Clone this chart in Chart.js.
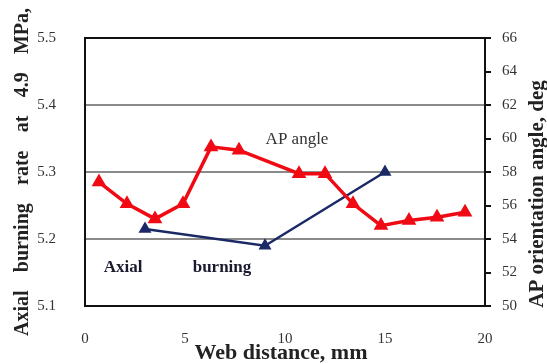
<!DOCTYPE html>
<html>
<head>
<meta charset="utf-8">
<script src="https://cdn.jsdelivr.net/npm/chart.js@4"></script>
<style>
  body { margin: 0; background: #fff; }
</style>
</head>
<body>
<canvas id="chart" width="547" height="364"></canvas>
<script>
// AP orientation angle (right axis)
const webDistanceAP = [0.7, 2.1, 3.5, 4.9, 6.3, 7.7, 10.7, 12.0, 13.4, 14.8, 16.2, 17.6, 19.0];
const apAngle = [57.4, 56.1, 55.2, 56.1, 59.5, 59.3, 57.9, 57.9, 56.1, 54.8, 55.1, 55.3, 55.6];

// Axial burning rate (left axis)
const webDistanceBurn = [3, 9, 15];
const burningRate = [5.215, 5.19, 5.30];

const xTitle = "Web distance, mm";
const yTitle = "Axial burning rate at 4.9 MPa,";
const y1Title = "AP orientation angle, deg";

const SERIF = "'Liberation Serif', 'DejaVu Serif', serif";

function toPoints(xs, ys) {
  return xs.map((x, i) => ({ x: x, y: ys[i] }));
}

// frame, axis titles and in-plot labels
const textPlugin = {
  id: "texts",
  afterDraw(chart) {
    const ctx = chart.ctx;
    const a = chart.chartArea;
    ctx.save();
    ctx.strokeStyle = "#111";
    ctx.lineWidth = 2;
    ctx.strokeRect(a.left, a.top, a.right - a.left, a.bottom - a.top);

    ctx.fillStyle = "#222";
    ctx.textBaseline = "middle";

    // bottom title
    ctx.font = "bold 22px " + SERIF;
    ctx.textAlign = "center";
    ctx.fillText(xTitle, 281, 353);

    // left title, justified along the full height
    ctx.save();
    ctx.translate(23, 336);
    ctx.rotate(-Math.PI / 2);
    ctx.font = "bold 20px " + SERIF;
    ctx.textAlign = "left";
    const words = yTitle.split(" ");
    const widths = words.map(w => ctx.measureText(w).width);
    const total = widths.reduce((s, w) => s + w, 0);
    const gap = (328 - total) / (words.length - 1);
    let pos = 0;
    words.forEach((w, i) => {
      ctx.fillText(w, pos, 0);
      pos += widths[i] + gap;
    });
    ctx.restore();

    // right title
    ctx.save();
    ctx.translate(538, 194);
    ctx.rotate(-Math.PI / 2);
    ctx.font = "bold 21px " + SERIF;
    ctx.textAlign = "center";
    ctx.fillText(y1Title, 0, 0);
    ctx.restore();

    // series labels
    ctx.textAlign = "center";
    ctx.fillStyle = "#333";
    ctx.font = "17px " + SERIF;
    ctx.fillText("AP angle", 297, 140);
    ctx.fillStyle = "#1a1a2e";
    ctx.font = "bold 17px " + SERIF;
    ctx.fillText("Axial", 123, 268);
    ctx.fillText("burning", 222, 268);
    ctx.restore();
  }
};

new Chart(document.getElementById("chart").getContext("2d"), {
  type: "line",
  data: {
    datasets: [
      {
        label: "AP angle",
        data: toPoints(webDistanceAP, apAngle),
        yAxisID: "y1",
        borderColor: "#f00a14",
        backgroundColor: "#f00a14",
        borderWidth: 3.5,
        pointStyle: "triangle",
        pointRadius: 5,
        tension: 0
      },
      {
        label: "Axial burning",
        data: toPoints(webDistanceBurn, burningRate),
        yAxisID: "y",
        borderColor: "#1b2a66",
        backgroundColor: "#1b2a66",
        borderWidth: 2.5,
        pointStyle: "triangle",
        pointRadius: 5,
        tension: 0
      }
    ]
  },
  options: {
    responsive: false,
    animation: false,
    layout: { padding: { top: 35, left: 0, right: 0, bottom: 0 } },
    plugins: {
      legend: { display: false },
      tooltip: { enabled: false }
    },
    scales: {
      x: {
        type: "linear",
        min: 0,
        max: 20,
        ticks: { stepSize: 5, padding: 24, color: "#333", font: { family: SERIF, size: 15 } },
        grid: { display: false, drawTicks: false },
        border: { display: false },
        afterFit(s) { s.height = 58; }
      },
      y: {
        position: "left",
        min: 5.1,
        max: 5.5,
        ticks: {
          stepSize: 0.1,
          padding: 29,
          color: "#333",
          font: { family: SERIF, size: 15 },
          callback: v => v.toFixed(1)
        },
        grid: {
          drawTicks: false,
          lineWidth: 2,
          color: c => (c.tick && c.tick.value > 5.15 && c.tick.value < 5.45) ? "#8a8a8a" : "rgba(0,0,0,0)"
        },
        border: { display: false },
        afterFit(s) { s.width = 85; }
      },
      y1: {
        position: "right",
        min: 50,
        max: 66,
        ticks: { stepSize: 2, padding: 11, color: "#333", font: { family: SERIF, size: 15 } },
        grid: { drawOnChartArea: false, drawTicks: true, tickLength: 6, lineWidth: 2, color: "#111" },
        border: { display: false },
        afterFit(s) { s.width = 62; }
      }
    }
  },
  plugins: [textPlugin]
});
</script>
</body>
</html>
